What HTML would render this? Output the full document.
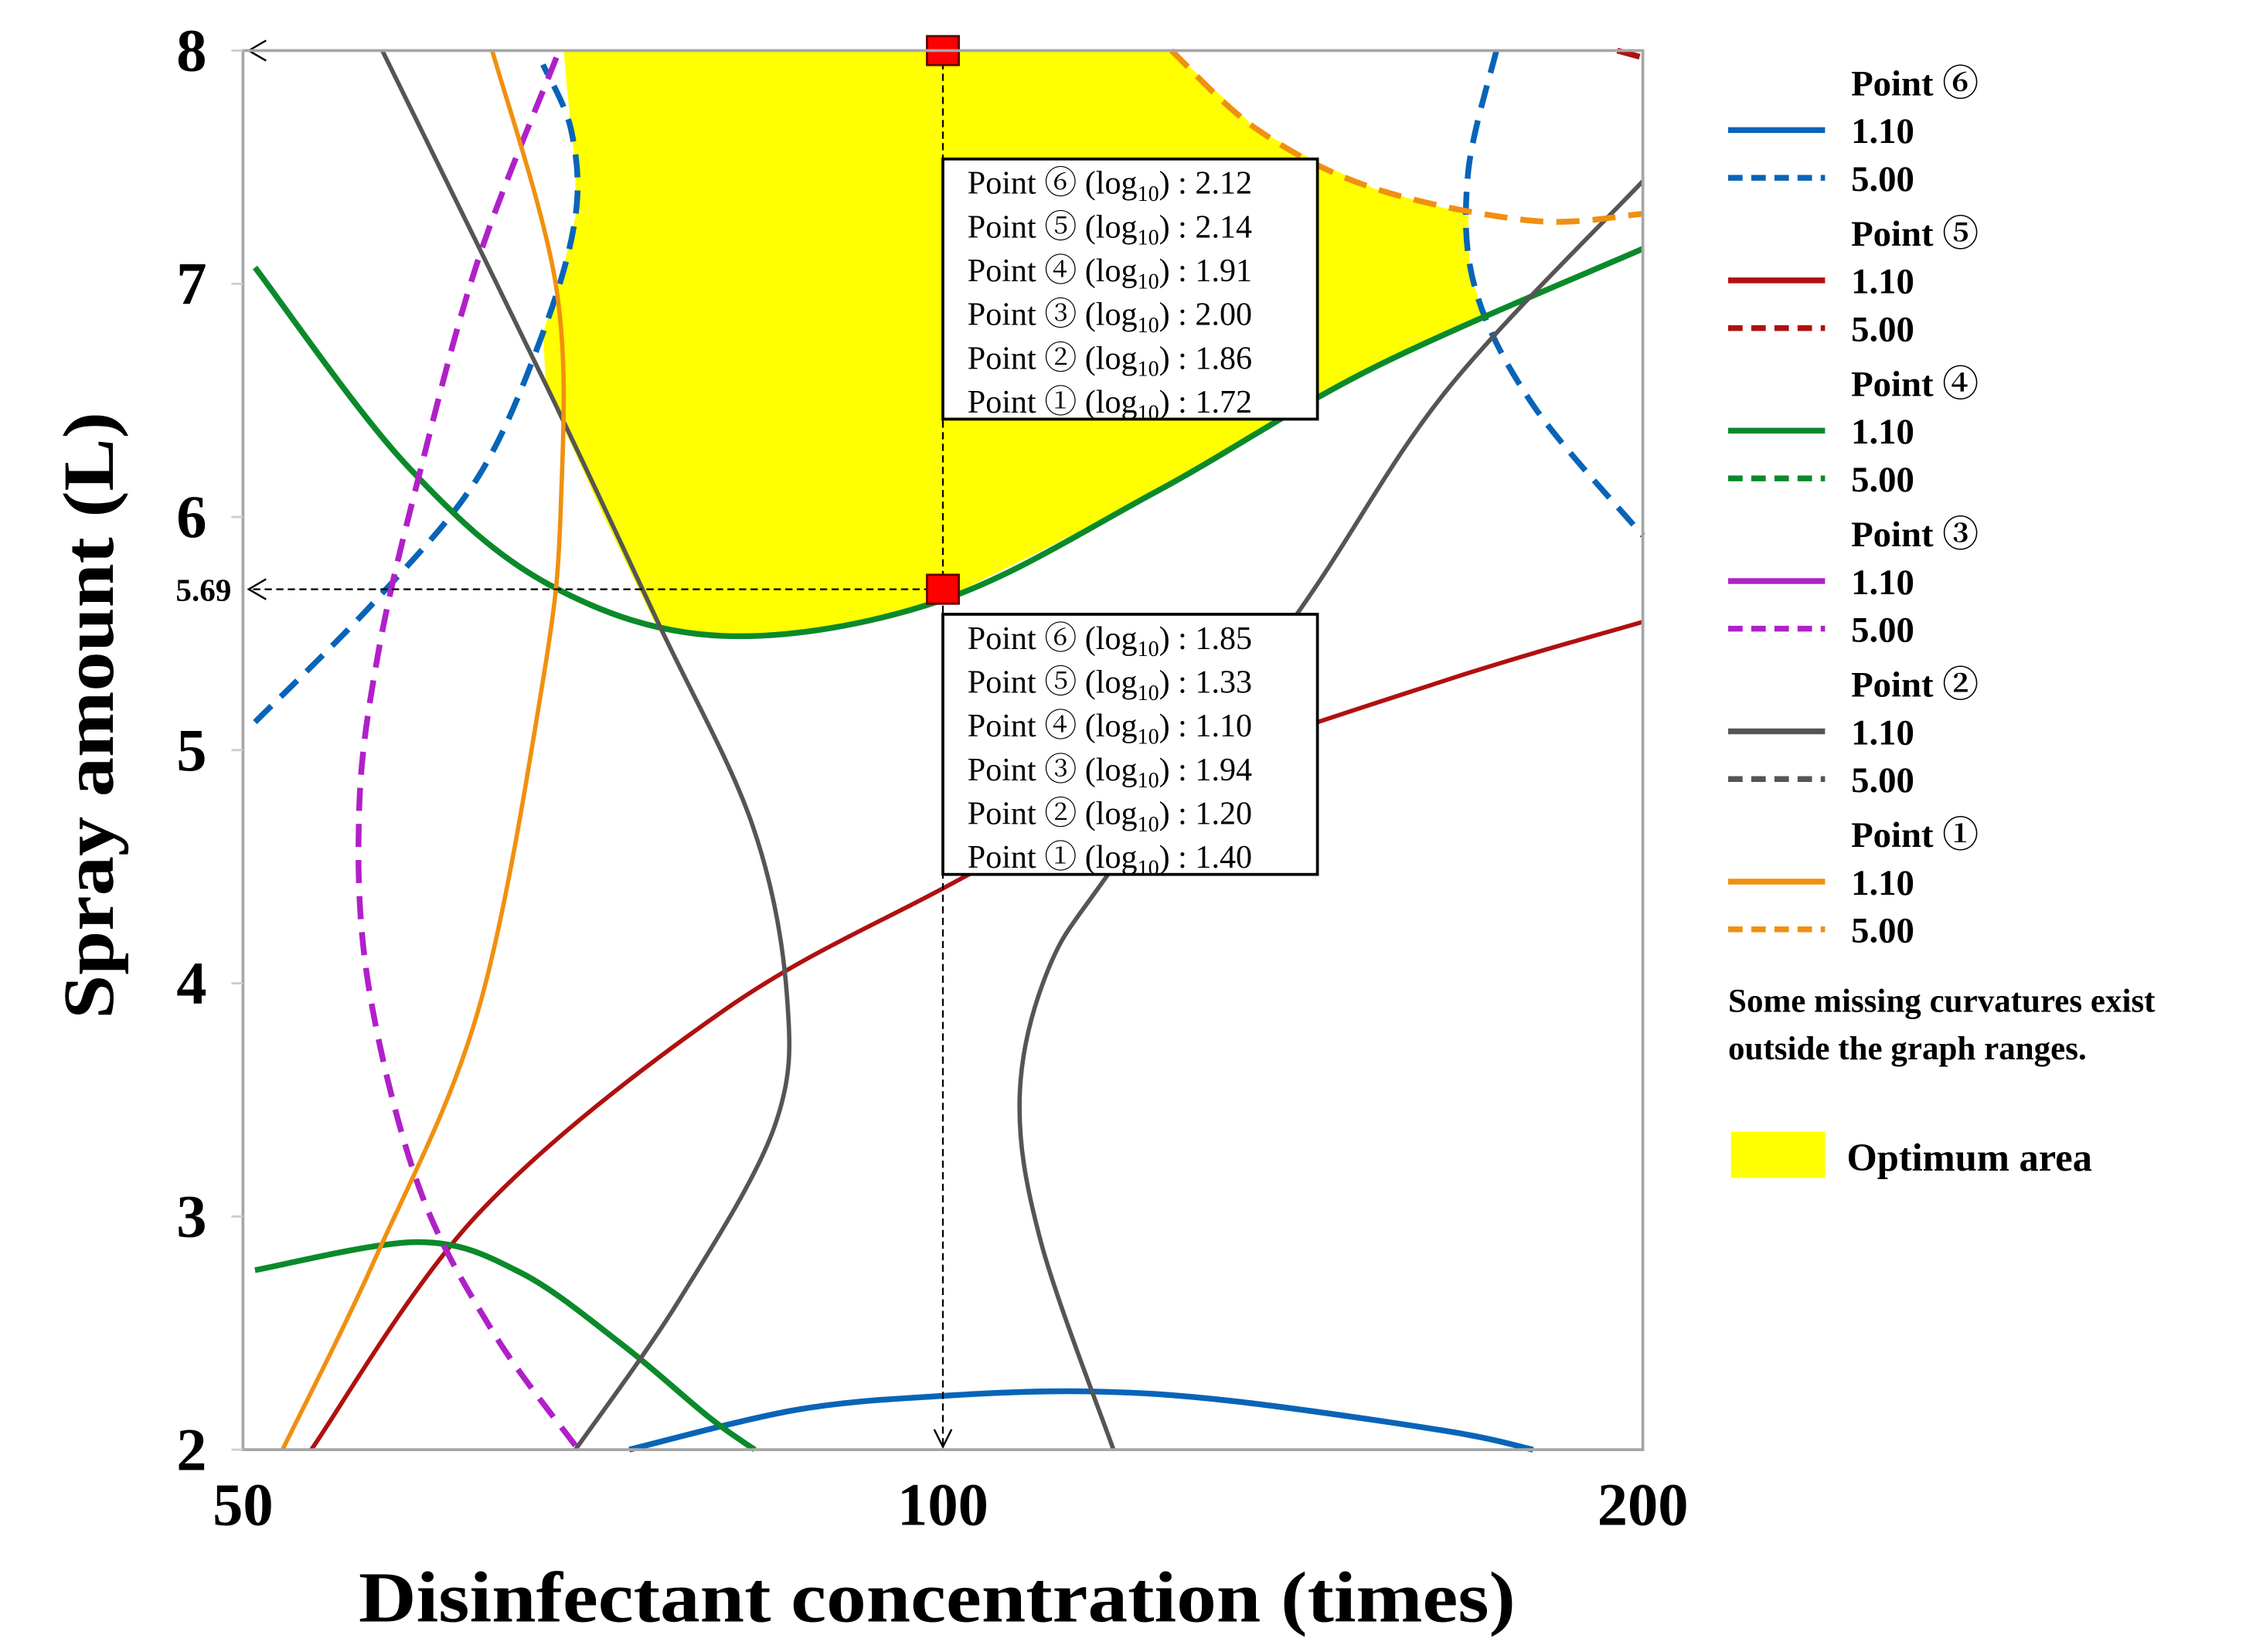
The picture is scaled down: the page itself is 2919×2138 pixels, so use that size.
<!DOCTYPE html>
<html><head><meta charset="utf-8">
<style>
html,body{margin:0;padding:0;background:#fff;}
svg{display:block;}
text{font-family:"Liberation Serif","DejaVu Serif","Noto Serif CJK SC",serif;}
</style></head>
<body>
<svg id="chart" width="2919" height="2138" viewBox="0 0 1560 1143" preserveAspectRatio="none" xmlns="http://www.w3.org/2000/svg">
<rect x="0" y="0" width="1560" height="1143" fill="#fff"/>
<g id="plot"></g>
<g id="axes"></g>
<g id="legend"></g>
</svg>
<script>
// ---- data ----
const xTicks = [50, 100, 200];
const yTicks = [2, 3, 4, 5, 6, 7, 8];
const optimumArea = [[68.7,8],[125.4,8],[130,7.86],[136.6,7.66],[145,7.52],[153.2,7.41],[162,7.34],[168.3,7.3],[168.2,7.2],[168.6,7.05],[169.4,6.98],[171,6.85],[162,6.76],[153.2,6.64],[138,6.38],[123.6,6.11],[110,5.85],[99.7,5.64],[90,5.52],[80.4,5.48],[75.4,5.52],[71.5,6.0],[67.5,6.55],[67.3,6.79],[68.6,7.05],[69.5,7.29],[69.5,7.5],[69.2,7.66],[68.9,7.85],[68.7,8]];
const p6Solid = [[73.3,2],[86.4,2.17],[99.7,2.23],[115.1,2.25],[132.8,2.21],[164.6,2.08],[179.4,2]];
const p6DashA = [[50.6,5.12],[57.0,5.64],[63.1,6.17],[67.3,6.79],[69.5,7.29],[69.2,7.66],[67.3,7.94]];
const p6DashB = [[173.0,8],[168.2,7.47],[169.4,6.98],[179.4,6.48],[200,5.92]];
const p5Solid = [[53.5,2],[63.1,3.01],[80.4,3.88],[99.7,4.40],[123.6,4.87],[164.6,5.30],[200,5.55]];
const p5Dash = [[195,8],[200,7.97]];
const p4SolidA = [[50.6,7.07],[58.7,6.23],[67.7,5.71],[80.4,5.49],[99.7,5.64],[123.6,6.11],[153.2,6.64],[200,7.15]];
const p4SolidB = [[50.6,2.77],[59.5,2.89],[65.8,2.76],[72.8,2.45],[79.3,2.14],[83.0,2]];
const p3Dash = [[68.2,7.97],[63.1,7.10],[59.5,6.17],[57.2,5.43],[56.1,4.75],[56.6,4.0],[59.5,3.13],[64.0,2.51],[69.7,2]];
const p2SolidA = [[57.4,8],[67.7,6.54],[75.4,5.55],[82.8,4.68],[85.7,3.94],[84.6,3.38],[77.0,2.64],[69.5,2]];
const p2SolidB = [[118.4,2],[110.2,2.89],[107.9,3.51],[111.0,4.06],[118.4,4.50],[142.6,5.61],[164.6,6.54],[200,7.44]];
const p1Solid = [[52.0,2],[57.0,2.82],[63.1,3.88],[67.3,5.30],[68.5,6.05],[68.2,6.98],[64.0,8]];
const p1Dash = [[125.4,8],[136.6,7.66],[153.2,7.41],[179.4,7.27],[200,7.30]];
const box1Vals = ["2.12","2.14","1.91","2.00","1.86","1.72"];
const box2Vals = ["1.85","1.33","1.10","1.94","1.20","1.40"];
const markY = [8, 5.69];
const markX = 100;

// ---- scales ----
const X0=168, X1=1136, Y0=1003, Y1=35;
function sx(v){return X0+(X1-X0)*Math.log(v/50)/Math.log(4);}
function sy(v){return Y0-(Y0-Y1)*(v-2)/6;}
const NS="http://www.w3.org/2000/svg";
function mk(tag,attrs,parent){const e=document.createElementNS(NS,tag);for(const k in attrs)e.setAttribute(k,attrs[k]);parent.appendChild(e);return e;}
function pathD(pts,close){
  const p=pts.map(q=>[sx(q[0]),sy(q[1])]);
  let d="M"+p[0][0]+","+p[0][1];
  for(let i=0;i<p.length-1;i++){
    const p0=p[Math.max(i-1,0)],p1=p[i],p2=p[i+1],p3=p[Math.min(i+2,p.length-1)];
    const c1=[p1[0]+(p2[0]-p0[0])/6,p1[1]+(p2[1]-p0[1])/6];
    const c2=[p2[0]-(p3[0]-p1[0])/6,p2[1]-(p3[1]-p1[1])/6];
    d+=" C"+c1[0]+","+c1[1]+" "+c2[0]+","+c2[1]+" "+p2[0]+","+p2[1];
  }
  return d+(close?" Z":"");
}
function polyD(pts){return "M"+pts.map(q=>sx(q[0])+","+sy(q[1])).join(" L")+" Z";}
const plot=document.getElementById('plot');
const axes=document.getElementById('axes');
const legend=document.getElementById('legend');

// optimum area
const area=mk('path',{d:polyD(optimumArea),fill:'#ffff00',stroke:'none'},plot);



// frame
const frame=mk('rect',{x:X0,y:Y1,width:X1-X0,height:Y0-Y1,fill:'none',stroke:'#a6a6a6','stroke-width':2},axes);



const series=[
 ['point6-1.10-curve',p6Solid,'#0864b8',false],
 ['point6-5.00-curve-left',p6DashA,'#0864b8',true],
 ['point6-5.00-curve-right',p6DashB,'#0864b8',true],
 ['point5-1.10-curve',p5Solid,'#b01010',false],
 ['point5-5.00-curve',p5Dash,'#b01010',true],
 ['point4-1.10-curve-upper',p4SolidA,'#0a8a2a',false],
 ['point4-1.10-curve-lower',p4SolidB,'#0a8a2a',false],
 ['point3-5.00-curve',p3Dash,'#b020c8',true],
 ['point2-1.10-curve-left',p2SolidA,'#555555',false],
 ['point2-1.10-curve-right',p2SolidB,'#555555',false],
 ['point1-1.10-curve',p1Solid,'#f09010',false],
 ['point1-5.00-curve',p1Dash,'#f09010',true]
];
series.forEach(s=>{
  const thick=(s[0].indexOf('point4')===0||s[0]==='point6-1.10-curve'||s[3]);
  const e=mk('path',{d:pathD(s[1],false),fill:'none',stroke:s[2],'stroke-width':thick?4:3,'stroke-dasharray':s[3]?'16 9':'none'},plot);
  
  
});

// guide lines
const gx=sx(markX);
markY.forEach((v,i)=>{
  const y=sy(v);
  const l=mk('line',{x1:gx,y1:y,x2:X0+4,y2:y,stroke:'#000','stroke-width':1.2,'stroke-dasharray':'5 3'},plot);
  
  
  const a=mk('path',{d:`M${X0+16},${y-7} L${X0+4},${y} L${X0+16},${y+7}`,fill:'none',stroke:'#000','stroke-width':1.3},plot);
  
  
});
const vl=mk('line',{x1:gx,y1:sy(8),x2:gx,y2:Y0-2,stroke:'#000','stroke-width':1.2,'stroke-dasharray':'5 3'},plot);


const va=mk('path',{d:`M${gx-6},${Y0-14} L${gx},${Y0-2} L${gx+6},${Y0-14}`,fill:'none',stroke:'#000','stroke-width':1.3},plot);


markY.forEach(v=>{
  const r=mk('rect',{x:gx-11,y:sy(v)-10,width:22,height:20,fill:'#ff0000',stroke:'#600','stroke-width':1.5},plot);
  
  
});

// callout boxes
const names=['⑥','⑤','④','③','②','①'];
function box(vals,top,nm){
  const g=mk('g',{},plot);
  
  
  mk('rect',{x:652,y:top,width:259,height:180,fill:'#fff',stroke:'#000','stroke-width':2},g);
  vals.forEach((v,i)=>{
    const t=mk('text',{x:669,y:top+24+i*30.3,'font-size':22.5,fill:'#000'},g);
    
    
    t.innerHTML=`Point ${names[i]} (log<tspan font-size="15" dy="5">10</tspan><tspan dy="-5">) : ${v}</tspan>`;
  });
}
box(box1Vals,110,'callout-box-top');
box(box2Vals,425,'callout-box-bottom');

// ticks
xTicks.forEach(v=>{
  const t=mk('text',{x:sx(v),y:1055,'font-size':42,'font-weight':'bold','text-anchor':'middle'},axes);
  
  
  t.textContent=v;
});
yTicks.forEach(v=>{
  const t=mk('text',{x:143,y:sy(v)+14,'font-size':42,'font-weight':'bold','text-anchor':'end'},axes);
  
  
  t.textContent=v;
  const k=mk('line',{x1:X0-8,y1:sy(v),x2:X0,y2:sy(v),stroke:'#ccc','stroke-width':1.5},axes);
  
  
});
const t569=mk('text',{x:160,y:sy(5.69)+8,'font-size':22,'font-weight':'bold','text-anchor':'end'},axes);


t569.textContent='5.69';
const xt=mk('text',{x:648,y:1122,'font-size':50,'font-weight':'bold','text-anchor':'middle',textLength:800,lengthAdjust:'spacingAndGlyphs'},axes);


xt.textContent='Disinfectant concentration (times)';
const yt=mk('text',{x:0,y:0,'font-size':50,'font-weight':'bold','text-anchor':'middle',transform:'translate(78,495) rotate(-90)',textLength:420,lengthAdjust:'spacingAndGlyphs'},axes);


yt.textContent='Spray amount (L)';

// legend
const legNames=['⑥','⑤','④','③','②','①'];
const legColors=['#0864b8','#b01010','#0a8a2a','#b020c8','#555555','#f09010'];
legNames.forEach((n,i)=>{
  const base=57+i*104;
  const h=mk('text',{x:1280,y:base+9,'font-size':25,'font-weight':'bold'},legend);
  
  
  h.textContent='Point '+n;
  [['1.10',false],['5.00',true]].forEach((r,j)=>{
    const y=base+33+j*33;
    const l=mk('line',{x1:1195,y1:y,x2:1262,y2:y,stroke:legColors[i],'stroke-width':4,'stroke-dasharray':r[1]?'10 6':'none'},legend);
    
    
    const t=mk('text',{x:1280,y:y+9,'font-size':25,'font-weight':'bold'},legend);
    
    
    t.textContent=r[0];
  });
});
['Some missing curvatures exist','outside the graph ranges.'].forEach((s,i)=>{
  const t=mk('text',{x:1195,y:700+i*33,'font-size':23,'font-weight':'bold'},legend);
  
  
  t.textContent=s;
});
const oa=mk('rect',{x:1197,y:783,width:65,height:32,fill:'#ffff00'},legend);


const ot=mk('text',{x:1277,y:810,'font-size':27,'font-weight':'bold'},legend);


ot.textContent='Optimum area';
</script>
</body></html>
